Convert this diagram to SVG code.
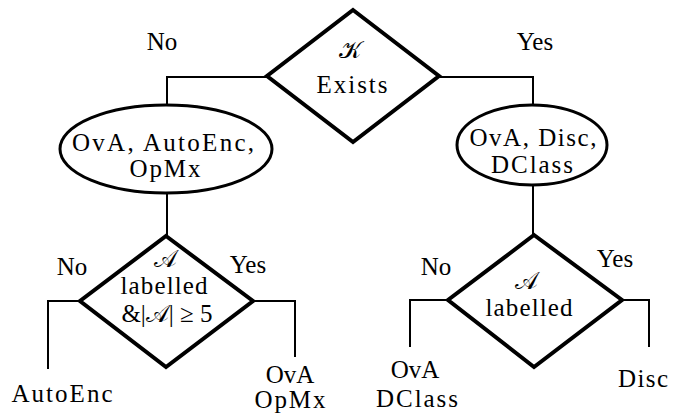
<svg xmlns="http://www.w3.org/2000/svg" width="679" height="414" viewBox="0 0 679 414">
<style>
text{font-family:"Liberation Serif","DejaVu Serif",serif;font-size:25px;fill:#000;text-anchor:middle}
.cal{font-family:"DejaVu Sans","Noto Sans",serif;font-size:24px}
.dia{fill:#fff;stroke:#000;stroke-width:4;stroke-linejoin:miter}
.ell{fill:#fff;stroke:#000;stroke-width:3}
.con{fill:none;stroke:#000;stroke-width:2}
</style>
<g id="connectors">
<polyline class="con" points="267,77 167,77 167,105"/>
<polyline class="con" points="440,77 533,77 533,105"/>
<line class="con" x1="167" y1="193" x2="167" y2="236"/>
<line class="con" x1="533" y1="185" x2="533" y2="235"/>
<polyline class="con" points="80,301 48,301 48,369"/>
<polyline class="con" points="253,301 295,301 295,357"/>
<polyline class="con" points="448,300 410,300 410,347"/>
<polyline class="con" points="622,300 649,300 649,347"/>
</g>
<g id="labels">
<text x="162" y="50">No</text>
<text x="535" y="50">Yes</text>
<text x="72" y="275">No</text>
<text x="248" y="273">Yes</text>
<text x="436" y="275">No</text>
<text x="615" y="267">Yes</text>
</g>
<g id="kexists">
<polygon class="dia" points="353,10 439,76 353,142 267,76"/>
<text class="cal" x="350" y="58">𝒦</text>
<text x="352" y="93" textLength="71" lengthAdjust="spacing">Exists</text>
</g>
<g id="left-set">
<ellipse class="ell" cx="166" cy="149" rx="106" ry="44"/>
<text x="163" y="151" textLength="182" lengthAdjust="spacing">OvA, AutoEnc,</text>
<text x="165" y="177" textLength="71" lengthAdjust="spacing">OpMx</text>
</g>
<g id="right-set">
<ellipse class="ell" cx="532" cy="145" rx="75" ry="40"/>
<text x="533" y="146" textLength="127" lengthAdjust="spacing">OvA, Disc,</text>
<text x="532" y="173" textLength="82" lengthAdjust="spacing">DClass</text>
</g>
<g id="left-decision">
<polygon class="dia" points="166,236 253,301 166,367 80,301"/>
<text class="cal" x="165" y="267">𝒜</text>
<text x="164" y="294" textLength="87" lengthAdjust="spacing">labelled</text>
<text x="167" y="322">&amp;|<tspan class="cal">𝒜</tspan>| ≥ 5</text>
</g>
<g id="right-decision">
<polygon class="dia" points="534,235 622,300 534,367 448,300"/>
<text class="cal" x="526" y="289">𝒜</text>
<text x="529" y="316" textLength="87" lengthAdjust="spacing">labelled</text>
</g>
<g id="autoenc">
<text x="62" y="402" textLength="101" lengthAdjust="spacing">AutoEnc</text>
</g>
<g id="ova-opmx">
<text x="290" y="383">OvA</text>
<text x="290" y="408" textLength="71" lengthAdjust="spacing">OpMx</text>
</g>
<g id="ova-dclass">
<text x="415" y="378">OvA</text>
<text x="417" y="407" textLength="82" lengthAdjust="spacing">DClass</text>
</g>
<g id="disc">
<text x="643" y="387" textLength="50" lengthAdjust="spacing">Disc</text>
</g>
</svg>
